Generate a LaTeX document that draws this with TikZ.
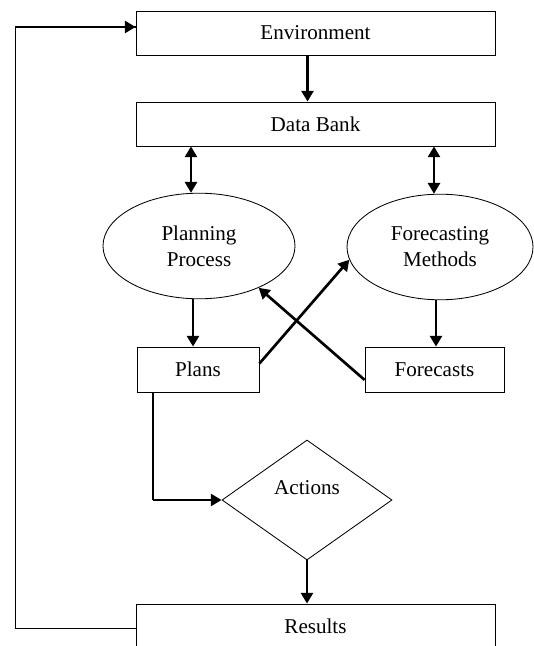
\documentclass[tikz,border=0pt]{standalone}
\usepackage{fontspec}
\setmainfont{Liberation Serif}
\usepackage{tikz}
\usetikzlibrary{positioning}
\usetikzlibrary{arrows.meta}
\usetikzlibrary{shapes.geometric}
\usetikzlibrary{calc}

\begin{document}
\begin{tikzpicture}[
  box/.style={
    rectangle,
    draw=black,
    line width=0.6pt,
    minimum width=#1,
    minimum height=1.1cm,
    inner sep=0pt,
    align=center,
    font=\fontsize{15}{18.5}\selectfont
  },
  oval/.style={
    ellipse,
    draw=black,
    line width=0.6pt,
    minimum width=#1,
    minimum height=2.64cm,
    inner sep=0pt,
    align=center,
    font=\fontsize{15}{18.5}\selectfont
  },
  arr/.style={-{Triangle[length=0.27cm, width=0.3cm]}, line width=1.9pt},
  dblarr/.style={{Triangle[length=0.27cm, width=0.3cm]}-{Triangle[length=0.27cm, width=0.3cm]}, line width=1.9pt},
  line/.style={line width=0.8pt}
]
\useasboundingbox (0,0) rectangle (13.325,-16.15);

% Boxes
\node[box=8.975cm] (env) at (7.8875, -0.825) {Environment};
\node[box=8.975cm] (db) at (7.8875, -3.1) {Data Bank};

\node[oval=4.8cm] (plan) at (4.975, -6.15) {Planning\\Process};
\node[oval=4.65cm] (fore) at (11.0, -6.175) {Forecasting\\Methods};

\node[box=3.05cm, minimum height=1.125cm] (plans) at (4.95, -9.2375) {Plans};
\node[box=3.475cm, minimum height=1.125cm] (casts) at (10.8625, -9.2375) {Forecasts};

\node[diamond, draw=black, line width=0.6pt, minimum width=4.25cm, minimum height=3cm,
      inner sep=0pt, font=\fontsize{15}{18.5}\selectfont] (act) at (7.675, -12.5)
{\raisebox{0.6cm}{Actions}};

\node[box=8.975cm] (res) at (7.8875, -15.65) {Results};

% Arrows
\draw[arr] ([xshift=-0.2cm]env.south) -- ([xshift=-0.2cm]db.north);
\draw[dblarr] ([xshift=-0.2cm]db.south -| plan.north) -- ([xshift=-0.2cm]plan.north);
\draw[dblarr] ([xshift=-0.15cm]db.south -| fore.north) -- ([xshift=-0.15cm]fore.north);

\draw[arr] ([xshift=-0.15cm]plan.south) -- ([xshift=-0.15cm]plan.south |- plans.north);
\draw[arr] ([xshift=-0.1cm]fore.south) -- ([xshift=-0.1cm]fore.south |- casts.north);

\draw[arr] ([yshift=0.15cm]plans.east) -- (fore.188);
\draw[arr] ([yshift=-0.26cm]casts.west) -- (plan.325);

\coordinate (bend) at ([xshift=-1.125cm]plans.south |- act.west);
\draw[line] ([xshift=-1.125cm]plans.south) -- (bend);
\draw[arr] (bend) -- (act.west);

\draw[arr] (act.south) -- (act.south |- res.north);

% Feedback loop
\draw[line] ([yshift=-0.07cm]res.west) -- ++(-3,0) |- ([yshift=0.15cm]env.west);
\draw[arr] ([xshift=-0.6cm, yshift=0.15cm]env.west) -- ([yshift=0.15cm]env.west);

\end{tikzpicture}
\end{document}
